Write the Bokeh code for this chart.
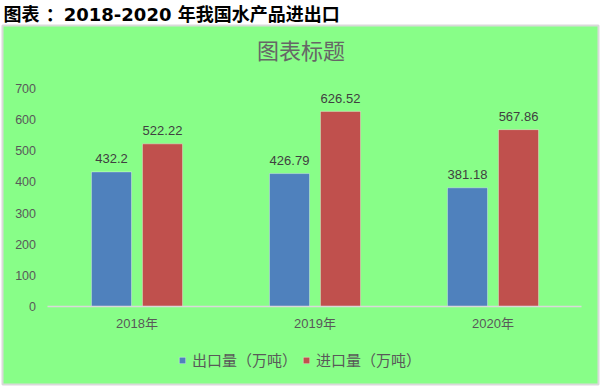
from bokeh.plotting import figure
from bokeh.models import (Range1d, FixedTicker, Legend, LegendItem,
                          Label, ColumnDataSource)
from bokeh.transform import dodge
from bokeh.embed import file_html
from bokeh.resources import INLINE
from bokeh.core.properties import value

# ---------------- data ----------------
years = ["2018年", "2019年", "2020年"]
exports = [432.2, 426.79, 381.18]
imports = [522.22, 626.52, 567.86]
export_labels = ["432.2", "426.79", "381.18"]
import_labels = ["522.22", "626.52", "567.86"]
y_ticks = [0, 100, 200, 300, 400, 500, 600, 700]
series_names = ["出口量（万吨）", "进口量（万吨）"]
heading = "图表 ：2018-2020 年我国水产品进出口"
chart_title = "图表标题"

# ---------------- styles ----------------
GREEN = "#88fe88"
BLUE = "#4f81bd"
RED = "#c0504d"
GRAY_TXT = "#595959"
LAT_CJK = "Liberation Sans, Noto Sans CJK SC"

x_pos = list(range(len(years)))
src = ColumnDataSource(dict(x=x_pos, exports=exports, imports=imports,
                            export_labels=export_labels, import_labels=import_labels))

# the plot frame is the whole green chart area; axes are placed inside it
p = figure(width=600, height=386,
           x_range=Range1d(-0.7556, 2.5927),
           y_range=Range1d(-250.5, 902.3),
           output_backend="svg", toolbar_location=None,
           min_border_left=2, min_border_right=2,
           min_border_top=25, min_border_bottom=2,
           background_fill_color=GREEN, border_fill_color="white",
           outline_line_color="#d9d9d9", outline_line_width=2)

BAR_W = 0.225
OFF = 0.1433
r1 = p.vbar(x=dodge("x", -OFF), top="exports", width=BAR_W, source=src,
            fill_color=BLUE, line_color="white", line_alpha=0.35)
r2 = p.vbar(x=dodge("x", OFF), top="imports", width=BAR_W, source=src,
            fill_color=RED, line_color="white", line_alpha=0.35)

p.text(x=dodge("x", -OFF), y="exports", text="export_labels", source=src,
       text_align="center", text_baseline="alphabetic", y_offset=-13,
       text_font=value("Liberation Sans"), text_font_size="13px", text_color="#404040")
p.text(x=dodge("x", OFF), y="imports", text="import_labels", source=src,
       text_align="center", text_baseline="alphabetic", y_offset=-13,
       text_font=value("Liberation Sans"), text_font_size="13px", text_color="#404040")

# page heading (figure title, on white)
p.title.text = heading
p.title.align = "left"
p.title.offset = 1
p.title.standoff = 2
p.title.text_font = "DejaVu Sans, Noto Sans CJK SC"
p.title.text_font_size = "18px"
p.title.text_font_style = "bold"
p.title.text_color = "black"

# chart title inside the green area
p.add_layout(Label(x=0.921, y=826, text=chart_title, text_align="center",
                   text_baseline="alphabetic", text_font="Noto Sans CJK SC",
                   text_font_size="22px", text_color="#666666"))

# axes
p.xgrid.visible = False
p.ygrid.visible = False

p.yaxis.fixed_location = -0.5
p.yaxis.ticker = FixedTicker(ticks=y_ticks)
p.yaxis.axis_line_color = None
p.yaxis.major_tick_line_color = None
p.yaxis.minor_tick_line_color = None
p.yaxis.major_tick_out = 0
p.yaxis.major_tick_in = 0
p.yaxis.major_label_standoff = 12
p.yaxis.major_label_text_font = "Liberation Sans"
p.yaxis.major_label_text_font_size = "12.5px"
p.yaxis.major_label_text_color = GRAY_TXT

p.xaxis.fixed_location = 0
p.xaxis.bounds = (-0.5, 2.5)
p.xaxis.ticker = FixedTicker(ticks=x_pos)
p.xaxis.major_label_overrides = {i: y for i, y in zip(x_pos, years)}
p.xaxis.axis_line_color = "#d9d9d9"
p.xaxis.axis_line_width = 1.5
p.xaxis.major_tick_line_color = None
p.xaxis.minor_tick_line_color = None
p.xaxis.major_tick_out = 0
p.xaxis.major_tick_in = 0
p.xaxis.major_label_standoff = 10
p.xaxis.major_label_text_font = LAT_CJK
p.xaxis.major_label_text_font_size = "13px"
p.xaxis.major_label_text_color = GRAY_TXT

legend = Legend(items=[LegendItem(label=series_names[0], renderers=[r1]),
                       LegendItem(label=series_names[1], renderers=[r2])],
                orientation="horizontal", location=(176, 14),
                glyph_width=8, glyph_height=8, label_standoff=6, spacing=5,
                padding=0, margin=0, border_line_color=None,
                background_fill_alpha=0, label_height=8,
                label_text_font="Noto Sans CJK SC", label_text_font_size="15px",
                label_text_color=GRAY_TXT)
p.add_layout(legend)

open("out.html", "w").write(file_html(p, INLINE))
